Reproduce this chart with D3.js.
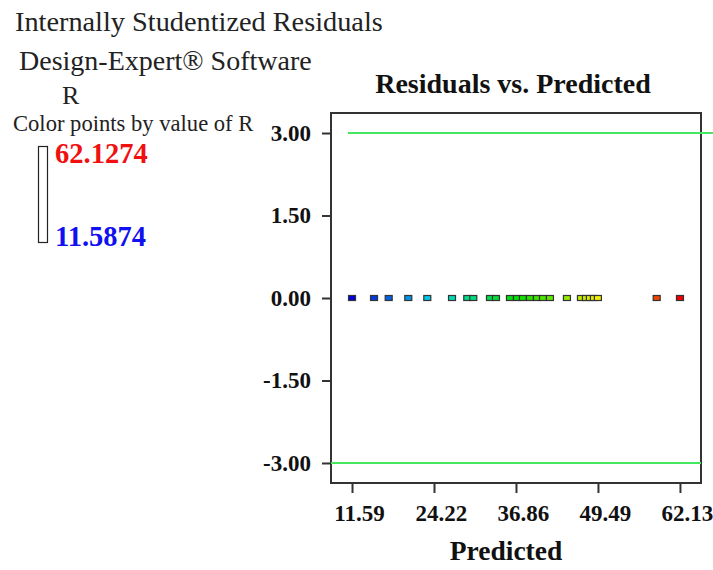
<!DOCTYPE html>
<html>
<head>
<meta charset="utf-8">
<script src="https://cdn.jsdelivr.net/npm/d3@7"></script>
<style>
  body { margin: 0; background: #fff; }
  svg { display: block; }
</style>
</head>
<body>
<div id="chart"></div>
<script>
// predicted R values (all residuals sit at 0)
const predicted = [
  11.59, 14.98, 17.24, 20.26, 23.19, 27.0, 29.35, 30.28, 32.85, 33.77,
  35.93, 37.01, 37.93, 39.01, 40.09, 41.02, 42.09, 44.71, 46.87, 47.64,
  48.25, 48.87, 49.48, 58.54, 62.13
];
const residuals = predicted.map(() => 0);
const xTicks = [11.5874, 24.2224, 36.8574, 49.4924, 62.1274];
const yTicks = [3, 1.5, 0, -1.5, -3];
const limitLines = [3, -3];
const rangeLow = 11.5874;
const rangeHigh = 62.1274;

const width = 713;
const height = 570;
const serif = "'Liberation Serif', 'Times New Roman', serif";

const svg = d3
  .select("#chart")
  .append("svg")
  .attr("width", width)
  .attr("height", height)
  .style("font-family", serif);

// plot frame
const plotLeft = 331, plotRight = 701, plotTop = 113, plotBottom = 483;

const x = d3
  .scaleLinear()
  .domain([8.35, 65.37])
  .range([plotLeft, plotRight]);

const y = d3
  .scaleLinear()
  .domain([-3.364, 3.364])
  .range([plotBottom, plotTop]);

const color = d3
  .scaleLinear()
  .domain([11.5874, 24.2224, 36.8574, 49.4924, 62.1274])
  .range(["#0000e0", "#00d8e8", "#00e000", "#f0f000", "#f00000"]);

// plain hyphen for negatives, like the original
const fmt = (d) => d3.format(".2f")(d).replace("\u2212", "-");

// header text on the left
svg.append("text")
  .attr("x", 15).attr("y", 31)
  .style("font-size", "28.3px").attr("fill", "#222")
  .text("Internally Studentized Residuals");
svg.append("text")
  .attr("x", 19).attr("y", 70)
  .style("font-size", "28px").attr("fill", "#222")
  .text("Design-Expert® Software");
svg.append("text")
  .attr("x", 62).attr("y", 104)
  .style("font-size", "26px").attr("fill", "#222")
  .text("R");
svg.append("text")
  .attr("x", 13).attr("y", 131)
  .style("font-size", "22.6px").attr("fill", "#222")
  .text("Color points by value of R");

svg.append("rect")
  .attr("x", 38.5).attr("y", 146.5)
  .attr("width", 9).attr("height", 96)
  .attr("fill", "none").attr("stroke", "#222").attr("stroke-width", 1.2);
svg.append("text")
  .attr("x", 55).attr("y", 163)
  .style("font-size", "28.5px").style("font-weight", "bold")
  .attr("fill", "#f01010")
  .text(rangeHigh.toFixed(4));
svg.append("text")
  .attr("x", 55).attr("y", 246)
  .style("font-size", "28.5px").style("font-weight", "bold")
  .attr("fill", "#1010f0")
  .text(rangeLow.toFixed(4));

// chart title
svg.append("text")
  .attr("x", 513).attr("y", 93)
  .attr("text-anchor", "middle")
  .style("font-size", "28px").style("font-weight", "bold")
  .attr("fill", "#111")
  .text("Residuals vs. Predicted");

// frame
svg.append("rect")
  .attr("x", plotLeft).attr("y", plotTop)
  .attr("width", plotRight - plotLeft).attr("height", plotBottom - plotTop)
  .attr("fill", "none").attr("stroke", "#333").attr("stroke-width", 2);

// axes
const yAxis = svg.append("g")
  .attr("transform", `translate(${plotLeft},0)`)
  .call(d3.axisLeft(y).tickValues(yTicks).tickFormat(fmt)
    .tickSize(9).tickPadding(11));
const xAxis = svg.append("g")
  .attr("transform", `translate(0,${plotBottom})`)
  .call(d3.axisBottom(x).tickValues(xTicks).tickFormat(fmt)
    .tickSize(10).tickPadding(12));

[xAxis, yAxis].forEach((ax) => {
  ax.select(".domain").remove();
  ax.selectAll(".tick line").attr("stroke", "#333").attr("stroke-width", 2);
  ax.selectAll(".tick text")
    .attr("fill", "#111")
    .style("font-family", serif)
    .style("font-size", "23px")
    .style("font-weight", "bold");
});
xAxis.selectAll(".tick text").attr("dx", 7);

// limit lines at +-3
svg.selectAll(".limit")
  .data(limitLines)
  .enter()
  .append("line")
  .attr("class", "limit")
  .attr("x1", (d) => (d > 0 ? plotLeft + 17 : plotLeft))
  .attr("x2", (d) => (d > 0 ? width : plotRight))
  .attr("y1", (d) => y(d))
  .attr("y2", (d) => y(d))
  .attr("stroke", "#44e860")
  .attr("stroke-width", 2);

// points
svg.selectAll(".pt")
  .data(predicted)
  .enter()
  .append("rect")
  .attr("class", "pt")
  .attr("x", (d) => x(d) - 3.5)
  .attr("y", (d, i) => y(residuals[i]) - 2.5)
  .attr("width", 7)
  .attr("height", 5)
  .attr("fill", (d) => color(d))
  .attr("stroke", "#333")
  .attr("stroke-width", 1.2);

svg.append("text")
  .attr("x", 506).attr("y", 560)
  .attr("text-anchor", "middle")
  .style("font-size", "27.5px").style("font-weight", "bold")
  .attr("fill", "#111")
  .text("Predicted");
</script>
</body>
</html>
